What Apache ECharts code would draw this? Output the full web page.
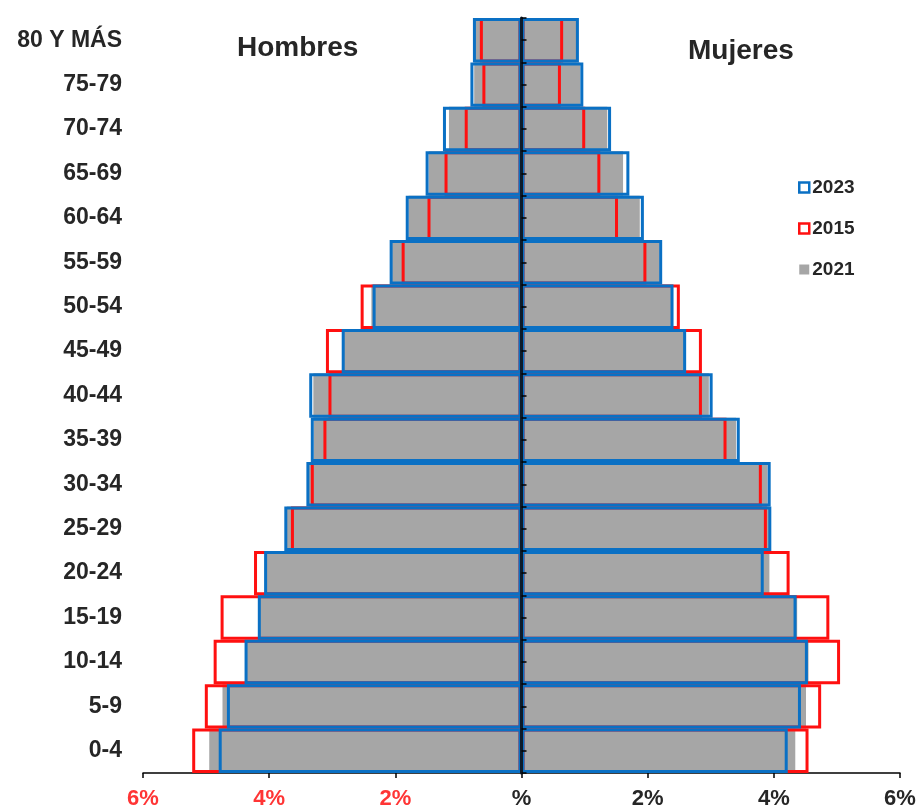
<!DOCTYPE html>
<html>
<head>
<meta charset="utf-8">
<script src="https://cdn.jsdelivr.net/npm/echarts@6/dist/echarts.min.js"></script>
<style>
html,body{margin:0;padding:0;background:#fff;}
#chart{width:917px;height:808px;}
</style>
</head>
<body>
<div id="chart"></div>
<script>
const categories = ['0-4','5-9','10-14','15-19','20-24','25-29','30-34','35-39','40-44','45-49','50-54','55-59','60-64','65-69','70-74','75-79','80 Y MÁS'];

const hombres2023 = [4.80, 4.67, 4.39, 4.18, 4.08, 3.76, 3.41, 3.34, 3.365, 2.85, 2.36, 2.09, 1.835, 1.52, 1.245, 0.81, 0.77];
const hombres2015 = [5.22, 5.02, 4.88, 4.77, 4.24, 3.655, 3.34, 3.14, 3.06, 3.10, 2.55, 1.90, 1.49, 1.22, 0.90, 0.62, 0.66];
const hombres2021 = [4.95, 4.74, 4.38, 4.17, 4.07, 3.72, 3.38, 3.29, 3.30, 2.84, 2.38, 2.05, 1.79, 1.47, 1.15, 0.75, 0.74];

const mujeres2023 = [4.22, 4.43, 4.54, 4.36, 3.84, 3.96, 3.95, 3.46, 3.03, 2.61, 2.41, 2.23, 1.94, 1.71, 1.42, 0.98, 0.91];
const mujeres2015 = [4.55, 4.75, 5.05, 4.88, 4.25, 3.89, 3.81, 3.25, 2.86, 2.86, 2.51, 1.98, 1.53, 1.25, 1.01, 0.625, 0.66];
const mujeres2021 = [4.34, 4.51, 4.55, 4.37, 3.93, 3.93, 3.90, 3.40, 2.97, 2.60, 2.40, 2.19, 1.875, 1.61, 1.36, 0.93, 0.87];

const xTicks = [-6, -4, -2, 0, 2, 4, 6];

const BLUE = '#0a70c4';
const RED = '#ff1010';
const GRAY = '#a6a6a6';
const TXT = '#262626';
const RED_LABEL = '#ff3535';
const FONT = 'Liberation Sans, Arial, sans-serif';

const neg = a => a.map(v => -v);
const halfBands = [];
for (let i = 0; i < categories.length * 2; i++) halfBands.push('h' + i);

const chart = echarts.init(document.getElementById('chart'), null, {renderer: 'canvas'});

function grayBar(name, data) {
  return {name, type: 'bar', yAxisIndex: 0, data, barGap: '-100%', barCategoryGap: 0,
    itemStyle: {color: GRAY, borderWidth: 0}, silent: true};
}
function outlineBar(name, data, color) {
  return {name, type: 'bar', yAxisIndex: 0, data, barGap: '-100%', barCategoryGap: 0,
    itemStyle: {color: 'rgba(0,0,0,0)', borderColor: color, borderWidth: 3}, silent: true};
}

const option = {
  animation: false,
  backgroundColor: '#fff',
  grid: {left: 143, right: 17, top: 18, bottom: 35, containLabel: false, outerBoundsMode: 'none'},
  xAxis: {
    type: 'value', min: xTicks[0], max: xTicks[xTicks.length - 1], interval: 2,
    axisLine: {show: true, onZero: false, lineStyle: {color: '#000', width: 1.5}},
    axisTick: {show: true, length: 5, lineStyle: {color: '#000', width: 1.5}},
    splitLine: {show: false},
    axisLabel: {
      margin: 15,
      fontFamily: FONT, fontWeight: 'bold', fontSize: 22,
      formatter: v => (v === 0 ? '%' : Math.abs(v) + '%'),
      color: v => (v < 0 ? RED_LABEL : TXT)
    }
  },
  yAxis: [
    {
      type: 'category', data: categories, position: 'left',
      axisLine: {show: false, onZero: false},
      axisTick: {show: false},
      axisLabel: {margin: 21, fontFamily: FONT, fontWeight: 'bold', fontSize: 23, color: TXT}
    },
    {
      type: 'category', data: halfBands, position: 'left', z: 10,
      axisLine: {show: true, onZero: true, lineStyle: {color: '#0d1b2a', width: 3}},
      axisTick: {show: true, inside: true, length: 5, lineStyle: {color: '#000', width: 1.5}},
      axisLabel: {show: false}
    }
  ],
  legend: {
    orient: 'vertical', left: 793, top: 173, itemGap: 22,
    itemWidth: 10, itemHeight: 10, icon: 'rect', selectedMode: false,
    textStyle: {fontFamily: FONT, fontWeight: 'bold', fontSize: 19, color: TXT, padding: [0,0,0,-2]},
    data: [
      {name: '2023', itemStyle: {color: '#fff', borderColor: BLUE, borderWidth: 2.5}},
      {name: '2015', itemStyle: {color: '#fff', borderColor: RED, borderWidth: 2.5}},
      {name: '2021', itemStyle: {color: GRAY, borderWidth: 0}}
    ]
  },
  graphic: [
    {type: 'text', left: 237, top: 34, style: {text: 'Hombres', fontFamily: FONT, fontWeight: 'bold', fontSize: 28, fill: TXT}},
    {type: 'text', left: 688, top: 37, style: {text: 'Mujeres', fontFamily: FONT, fontWeight: 'bold', fontSize: 28, fill: TXT}}
  ],
  series: [
    grayBar('2021', neg(hombres2021)),
    grayBar('2021', mujeres2021),
    outlineBar('2015', neg(hombres2015), RED),
    outlineBar('2015', mujeres2015, RED),
    outlineBar('2023', neg(hombres2023), BLUE),
    outlineBar('2023', mujeres2023, BLUE)
  ]
};
chart.setOption(option);
</script>
</body>
</html>
